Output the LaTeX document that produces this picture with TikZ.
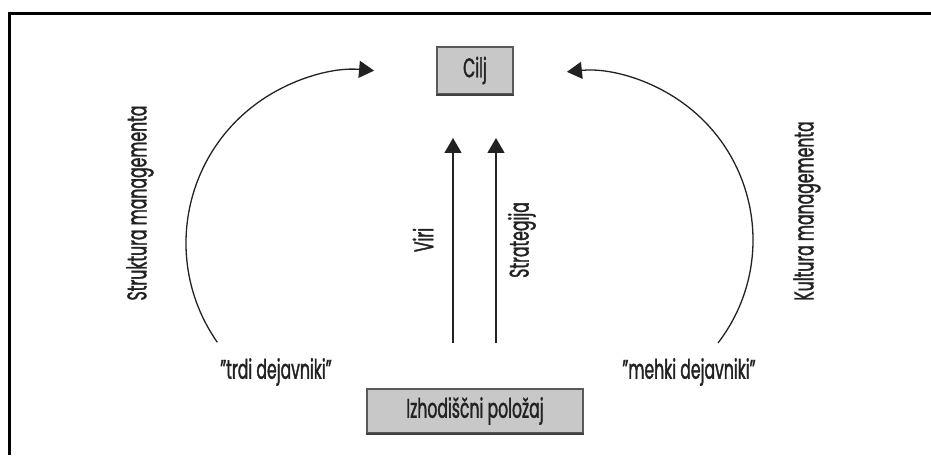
\documentclass[tikz,border=0pt]{standalone}
\usepackage{fontspec}
\setmainfont{Poppins}[FakeStretch=0.58,FakeBold=1.3]
\usetikzlibrary{arrows.meta,calc}
\definecolor{ink}{HTML}{222222}
\definecolor{boxfill}{HTML}{C8C8C8}
\tikzset{
  lbl/.style={font=\fontsize{27}{30}\selectfont, text=ink, inner sep=0pt},
  gbox/.style={draw=black!65, line width=1.2pt, fill=boxfill, inner sep=0pt, font=\fontsize{27}{30}\selectfont, text=ink},
  conn/.style={draw=ink, line width=1.3pt, -{Triangle[length=15pt,width=17pt]}},
  frame/.style={draw=black, line width=3pt}
}
\begin{document}
\begin{tikzpicture}[x=1pt,y=1pt]
\useasboundingbox (0,0) rectangle (931,455);
% frame
\coordinate (fb) at (9,0);
\coordinate (fc) at (9,441);
\coordinate (fr) at (931,441);
\draw[frame] (fb) -- (fc) -- (fr);
% boxes
\node[gbox, minimum width=76pt, minimum height=47pt] (cilj) at (475,384.5) {Cilj};
\node[gbox, minimum width=216pt, minimum height=44pt] (izh) at (475,44) {Izhodiščni položaj};
\draw[black!75, line width=2pt] (izh.south west) -- (izh.south east);
\draw[black!75, line width=2pt] (cilj.south west) -- (cilj.south east);
% labels
\node[lbl] (trdi) at (276,83) {"trdi dejavniki"};
\node[lbl] (mehki) at (689,83) {"mehki dejavniki"};
\node[lbl, rotate=90] (strukt) at (140,252) {Struktura managementa};
\node[lbl, rotate=90] (kult) at (807,244) {Kultura managementa};
\node[lbl, rotate=90] (viri) at (423,215) {Viri};
\node[lbl, rotate=90] (strat) at (522,215) {Strategija};
% vertical arrows
\coordinate (v1s) at (453,112);
\coordinate (v1e) at (453,317);
\coordinate (v2s) at (496,112);
\coordinate (v2e) at (496,317);
\draw[conn] (v1s) -- (v1e);
\draw[conn] (v2s) -- (v2e);
% arcs
\coordinate (ls) at ($(359,212)+(215:173)$);
\coordinate (rs) at ($(584,215)+(-37.5:169)$);
\draw[conn] (ls) arc[start angle=215, end angle=85, radius=173];
\draw[conn] (rs) arc[start angle=-37.5, end angle=95.8, radius=169];
\end{tikzpicture}
\end{document}
